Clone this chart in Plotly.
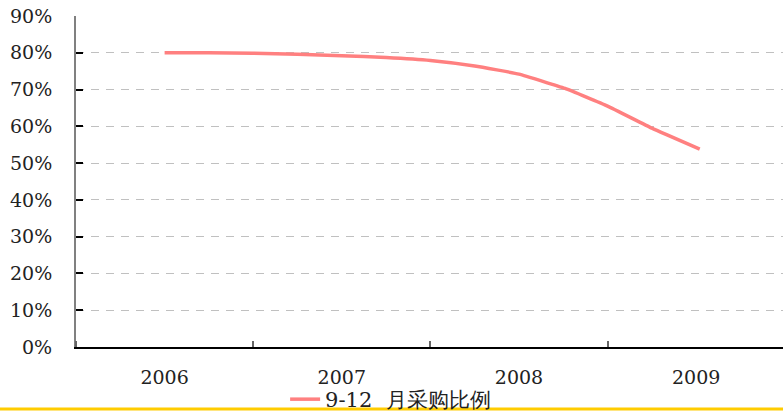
import plotly.graph_objects as go

# Data
years = ["2006", "2007", "2008", "2009"]
year_pos = [0, 1, 2, 3]
# position along the category axis (0 = 2006 ... 3 = 2009) and value (%)
line_x = [0, 0.25, 0.5, 0.75, 1.0, 1.25, 1.5, 1.75, 2.0, 2.26, 2.5, 2.75, 3.02]
line_y = [80.0, 80.0, 79.9, 79.6, 79.2, 78.7, 77.9, 76.4, 74.2, 70.3, 65.5, 59.5, 53.8]
series_name = "9-12\u00a0\u00a0月采购比例"
y_ticks = [0, 10, 20, 30, 40, 50, 60, 70, 80, 90]

FONT = "DejaVu Serif"

fig = go.Figure()
fig.add_trace(go.Scatter(
    x=line_x, y=line_y, mode="lines", name=series_name,
    line=dict(color="#FF8080", width=3.5, shape="spline", smoothing=0.35),
))

fig.update_layout(
    width=783, height=414,
    margin=dict(l=76, r=0, t=16, b=67, autoexpand=False),
    paper_bgcolor="white", plot_bgcolor="white",
    font=dict(family=FONT, size=19, color="#222222"),
    showlegend=True,
    legend=dict(orientation="h", x=0.445, xanchor="center",
                yref="container", y=0.035, yanchor="middle",
                font=dict(family=FONT, size=21, color="#222222"),
                bgcolor="rgba(0,0,0,0)"),
    xaxis=dict(
        range=[-0.5, 3.49], tickmode="array", tickvals=year_pos, ticktext=years,
        ticks="", showgrid=False, zeroline=False, automargin=False,
        showline=True, linecolor="black", linewidth=1.5,
        ticklabelstandoff=12,
        minor=dict(ticks="inside", tick0=-0.5, dtick=1, ticklen=6,
                   tickcolor="#666666", tickwidth=2, showgrid=False),
    ),
    yaxis=dict(
        range=[0, 90], tickmode="array", tickvals=y_ticks,
        ticktext=[f"{v}%" for v in y_ticks], automargin=False,
        ticks="inside", ticklen=7, tickcolor="black", tickwidth=1.5,
        showline=True, linecolor="#808080", linewidth=2,
        showgrid=True, gridcolor="#C0C0C0", gridwidth=1, griddash="8px,7px",
        zeroline=False, ticklabelstandoff=18,
    ),
    shapes=[dict(type="line", xref="paper", yref="paper",
                 x0=-0.2, x1=1.2, y0=-0.187, y1=-0.187,
                 line=dict(color="#FFCC00", width=3))],
)

fig.write_html("out.html", config={"displayModeBar": False},
               post_script="document.body.style.margin='0';document.body.style.overflow='hidden';")
